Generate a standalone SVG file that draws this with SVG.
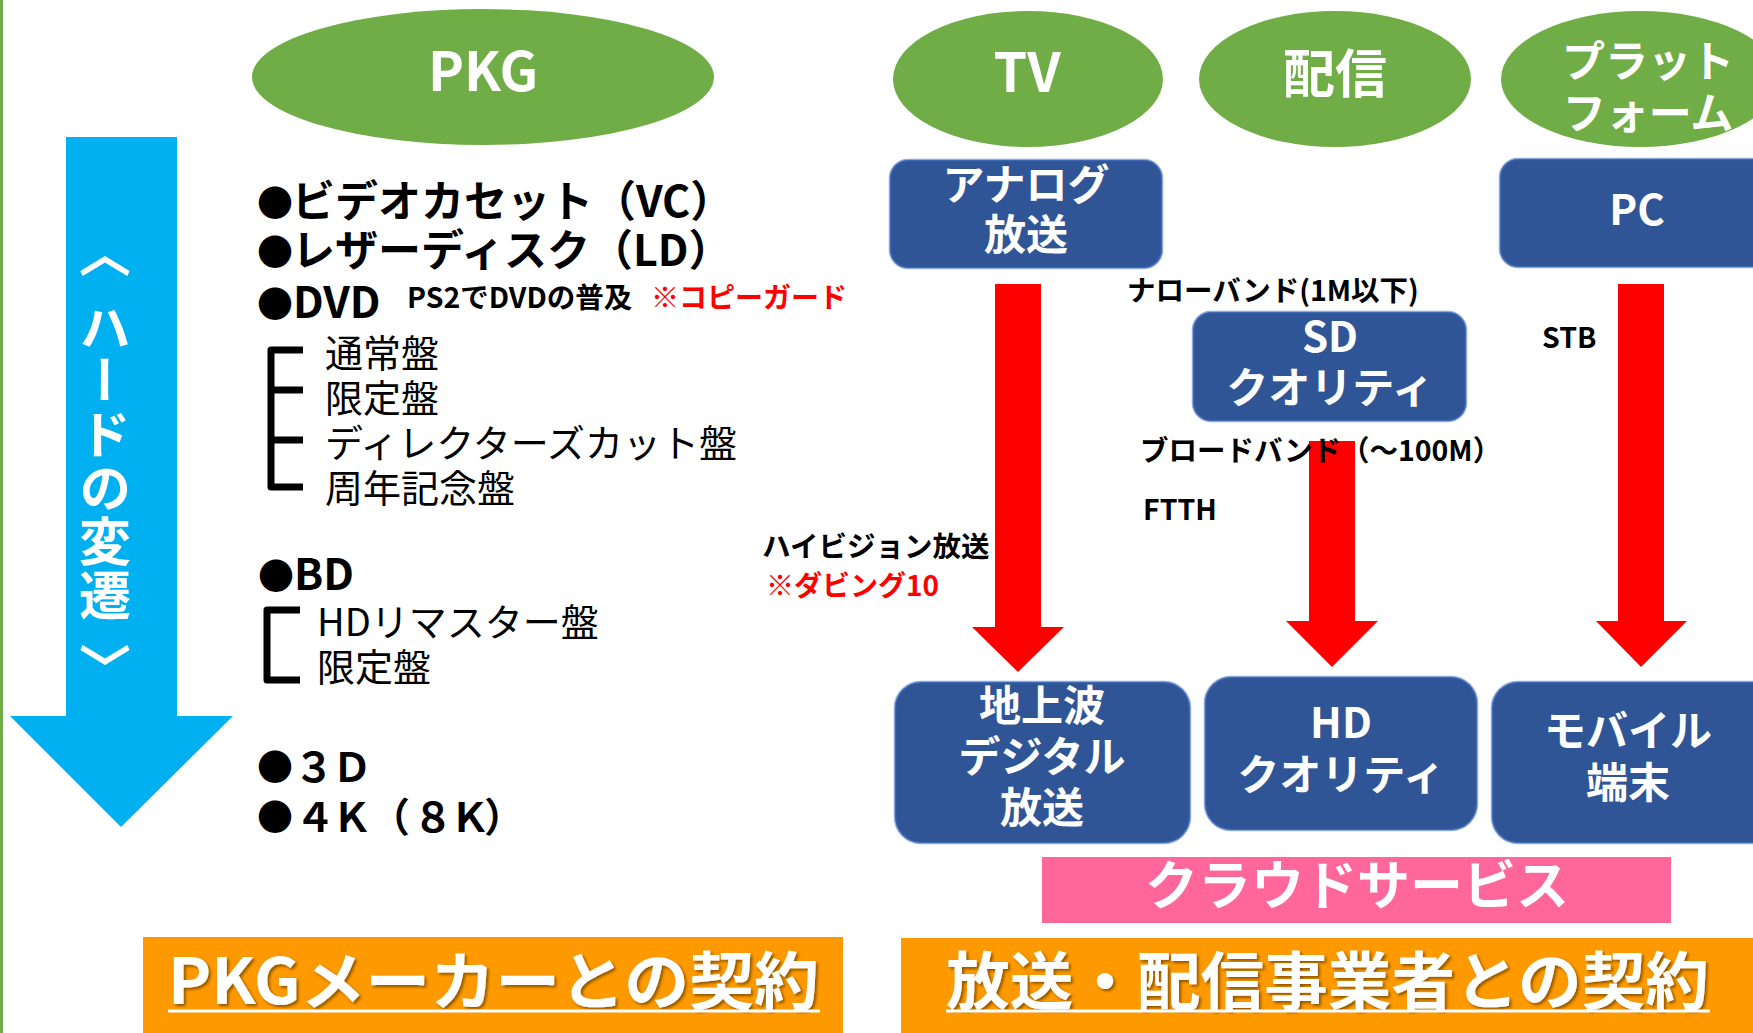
<svg xmlns="http://www.w3.org/2000/svg" width="1753" height="1033" viewBox="0 0 1753 1033">
<defs>
<style>
text{font-family:"Noto Sans CJK JP","Noto Sans",sans-serif}
.ell{fill:#70AD47}
.ellT{fill:#fff;font-weight:700;text-anchor:middle}
.box{fill:#2F5597;stroke:#4472C4;stroke-opacity:.6;stroke-width:2.5}
.boxT{fill:#fff;font-weight:700;font-size:42px;text-anchor:middle}
.item{fill:#000;font-weight:700;font-size:43px}
.dot{font-size:36px}
.sub{fill:#000;font-weight:400;font-size:38px}
.lbl{fill:#000;font-weight:700;font-size:28.5px}
.red{fill:#FF0000}
.redT{fill:#FF0000;font-weight:700;font-size:28px}
.br{fill:none;stroke:#000;stroke-width:7;stroke-linejoin:round}
.orange{fill:#FF9900}
.big{fill:#fff;font-weight:700;font-size:63px;filter:url(#sh)}
.ul{stroke:#fff;stroke-width:3}
.vt{fill:#fff;font-weight:700;font-size:52px;writing-mode:vertical-rl}
.fw{fill:#000;font-weight:700;font-size:40px;text-anchor:middle}
</style>
<filter id="sh" x="-5%" y="-20%" width="110%" height="140%">
<feDropShadow dx="2" dy="2" stdDeviation="1.5" flood-color="#000" flood-opacity="0.45"/>
</filter>
</defs>

<rect x="0" y="0" width="3" height="1033" fill="#70AD47"/>

<g id="header-pkg">
<ellipse class="ell" cx="483" cy="77" rx="231" ry="68"/>
<text class="ellT" x="483" y="91" font-size="54">PKG</text>
</g>
<g id="header-tv">
<ellipse class="ell" cx="1028" cy="79" rx="135" ry="68"/>
<text class="ellT" x="1027" y="92" font-size="54">TV</text>
</g>
<g id="header-haishin">
<ellipse class="ell" cx="1335" cy="79" rx="136" ry="68"/>
<text class="ellT" x="1335" y="93" font-size="52">配信</text>
</g>
<g id="header-platform">
<ellipse class="ell" cx="1640" cy="79" rx="139" ry="68"/>
<text class="ellT" x="1648" y="77" font-size="43">プラット</text>
<text class="ellT" x="1648" y="129" font-size="43">フォーム</text>
</g>

<g id="hard-arrow">
<polygon points="66,137 177,137 177,716 233,716 121,827 10,716 66,716" fill="#00B0F0"/>
<text class="vt" x="105" y="227">〈</text>
<text class="vt" x="105" y="301" letter-spacing="1.6">ハードの変遷</text>
<text class="vt" x="105" y="642">〉</text>
</g>

<g id="pkg-list">
<text class="item" y="217"><tspan class="dot" x="257">●</tspan><tspan x="292">ビデオカセット（VC）</tspan></text>
<text class="item" y="266"><tspan class="dot" x="257">●</tspan><tspan x="292">レザーディスク（LD）</tspan></text>
<text class="item" y="318"><tspan class="dot" x="257">●</tspan><tspan x="293">DVD</tspan></text>
<text class="lbl" x="407" y="308" font-size="29.5">PS2でDVDの普及</text>
<text class="redT" x="651" y="308">※コピーガード</text>
<path class="br" d="M303,350 H271 V487 H303 M271,390 H303 M271,440 H303"/>
<text class="sub" x="325" y="367">通常盤</text>
<text class="sub" x="325" y="412">限定盤</text>
<text class="sub" x="325" y="457">ディレクターズカット盤</text>
<text class="sub" x="325" y="502">周年記念盤</text>
<text class="item" y="590" font-size="45"><tspan class="dot" x="258">●</tspan><tspan x="294">BD</tspan></text>
<path class="br" d="M300,610 H267 V680 H300"/>
<text class="sub" x="317" y="636">HDリマスター盤</text>
<text class="sub" x="317" y="681">限定盤</text>
<text class="item dot" x="257" y="781">●</text>
<text class="fw" y="782" x="314 352">３Ｄ</text>
<text class="item dot" x="257" y="831">●</text>
<text class="fw" y="832" x="315 352 390 433 470 504">４Ｋ（８Ｋ）</text>
</g>

<g id="connectors">
<polygon class="red" points="995,284 1041,284 1041,627 1064,627 1018,672 972,627 995,627"/>
<polygon class="red" points="1309,441 1355,441 1355,621 1378,621 1332,667 1286,621 1309,621"/>
<polygon class="red" points="1618,284 1664,284 1664,621 1687,621 1641,667 1596,621 1618,621"/>
</g>

<g id="labels">
<text class="lbl" x="1127" y="301">ナローバンド(1M以下)</text>
<text class="lbl" x="1542" y="348">STB</text>
<text class="lbl" x="1140" y="461">ブロードバンド（～100M）</text>
<text class="lbl" x="1143" y="520">FTTH</text>
<text class="lbl" x="762" y="557" font-size="28">ハイビジョン放送</text>
<text class="redT" x="766" y="596">※ダビング10</text>
</g>

<g id="node-analog">
<rect class="box" x="890" y="160" width="272" height="108" rx="18"/>
<text class="boxT" x="1026" y="200">アナログ</text>
<text class="boxT" x="1026" y="250">放送</text>
</g>
<g id="node-pc">
<rect class="box" x="1500" y="159" width="280" height="108" rx="18"/>
<text class="boxT" x="1637" y="225" font-size="44">PC</text>
</g>
<g id="node-sd">
<rect class="box" x="1193" y="312" width="273" height="109" rx="18"/>
<text class="boxT" x="1330" y="352">SD</text>
<text class="boxT" x="1330" y="403">クオリティ</text>
</g>
<g id="node-digital">
<rect class="box" x="895" y="682" width="295" height="161" rx="26"/>
<text class="boxT" x="1042" y="721">地上波</text>
<text class="boxT" x="1042" y="772">デジタル</text>
<text class="boxT" x="1042" y="823">放送</text>
</g>
<g id="node-hd">
<rect class="box" x="1205" y="677" width="272" height="153" rx="26"/>
<text class="boxT" x="1341" y="738">HD</text>
<text class="boxT" x="1341" y="790">クオリティ</text>
</g>
<g id="node-mobile">
<rect class="box" x="1492" y="682" width="290" height="161" rx="26"/>
<text class="boxT" x="1628" y="746">モバイル</text>
<text class="boxT" x="1628" y="798">端末</text>
</g>

<g id="cloud">
<rect x="1042" y="857" width="629" height="66" fill="#FF6699"/>
<text x="1357" y="905" font-size="53" font-weight="700" fill="#fff" text-anchor="middle">クラウドサービス</text>
</g>

<g id="contract-pkg">
<rect class="orange" x="143" y="937" width="700" height="96"/>
<text class="big" x="168" y="1004" textLength="651" lengthAdjust="spacingAndGlyphs">PKGメーカーとの契約</text>
<line class="ul" x1="168" y1="1011" x2="820" y2="1011"/>
</g>
<g id="contract-broadcast">
<rect class="orange" x="901" y="938" width="852" height="95"/>
<text class="big" x="946" y="1004" textLength="763" lengthAdjust="spacingAndGlyphs">放送・配信事業者との契約</text>
<line class="ul" x1="946" y1="1011" x2="1710" y2="1011"/>
</g>
</svg>
